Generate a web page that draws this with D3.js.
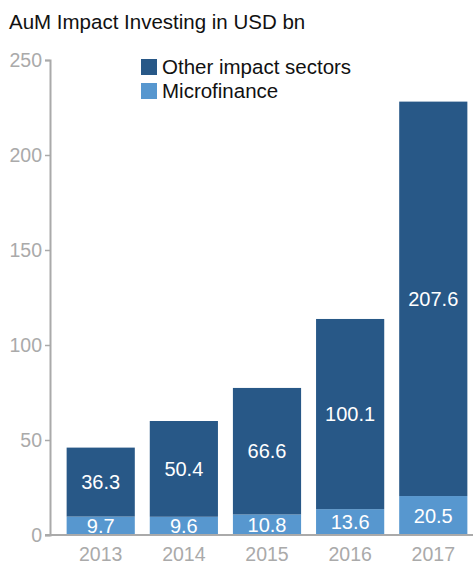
<!DOCTYPE html>
<html>
<head>
<meta charset="utf-8">
<script src="https://cdn.jsdelivr.net/npm/d3@7"></script>
<style>
  body { margin: 0; background: #fff; }
  text { font-family: "Liberation Sans", Arial, Helvetica, sans-serif; }
</style>
</head>
<body>
<div class="chart"></div>
<script>
const years = ["2013", "2014", "2015", "2016", "2017"];
const microfinance = [9.7, 9.6, 10.8, 13.6, 20.5];
const otherSectors = [36.3, 50.4, 66.6, 100.1, 207.6];
const yTicks = [0, 50, 100, 150, 200, 250];
const seriesNames = ["Other impact sectors", "Microfinance"];
const colors = {"Other impact sectors": "#285887", "Microfinance": "#5797cf"};

const data = years.map((y, i) => ({year: y, micro: microfinance[i], other: otherSectors[i]}));

const W = 473, H = 562;
const svg = d3.select(".chart").append("svg")
    .attr("width", W)
    .attr("height", H);

const xScale = d3.scaleBand()
    .domain(years)
    .range([50, 484])
    .paddingInner(0.18)
    .paddingOuter(0.2);

const yScale = d3.scaleLinear()
    .domain([0, 250])
    .range([535, 60]);

// title
svg.append("text")
    .attr("x", 9)
    .attr("y", 29)
    .attr("font-size", 20.5)
    .attr("fill", "#111")
    .text("AuM Impact Investing in USD bn");

// bars
const bars = svg.append("g").selectAll("g")
    .data(data)
    .enter().append("g");

bars.append("rect")
    .attr("x", d => xScale(d.year))
    .attr("width", xScale.bandwidth())
    .attr("y", d => yScale(d.micro))
    .attr("height", d => yScale(0) - yScale(d.micro))
    .attr("fill", colors["Microfinance"]);

bars.append("rect")
    .attr("x", d => xScale(d.year))
    .attr("width", xScale.bandwidth())
    .attr("y", d => yScale(d.micro + d.other))
    .attr("height", d => yScale(d.micro) - yScale(d.micro + d.other))
    .attr("fill", colors["Other impact sectors"]);

bars.append("text")
    .attr("x", d => xScale(d.year) + xScale.bandwidth() / 2)
    .attr("y", d => yScale(d.micro / 2))
    .attr("dy", "0.36em")
    .attr("text-anchor", "middle")
    .attr("font-size", 20)
    .attr("fill", "#fff")
    .text(d => d.micro.toFixed(1));

bars.append("text")
    .attr("x", d => xScale(d.year) + xScale.bandwidth() / 2)
    .attr("y", d => yScale(d.micro + d.other / 2))
    .attr("dy", "0.36em")
    .attr("text-anchor", "middle")
    .attr("font-size", 20)
    .attr("fill", "#fff")
    .text(d => d.other.toFixed(1));

// y axis
const yAxis = d3.axisLeft(yScale)
    .tickValues(yTicks)
    .tickSize(5)
    .tickPadding(3)
    .tickSizeOuter(5);

svg.append("g")
    .attr("class", "axis y-axis")
    .attr("transform", "translate(50,0)")
    .call(yAxis)
    .call(g => g.select(".domain").attr("stroke", "#aaa").attr("stroke-width", 2))
    .call(g => g.selectAll(".tick line").attr("stroke", "#aaa").attr("stroke-width", 1.5))
    .call(g => g.selectAll(".tick text")
        .attr("font-size", 19.5)
        .attr("fill", "#aaa")
        .attr("font-family", "Liberation Sans, Arial, sans-serif"));

// x axis
const xAxis = d3.axisBottom(xScale)
    .tickSize(0)
    .tickPadding(12);

svg.append("g")
    .attr("class", "axis x-axis")
    .attr("transform", "translate(0,535)")
    .call(xAxis)
    .call(g => g.select(".domain").remove())
    .call(g => g.selectAll(".tick text")
        .attr("font-size", 19.5)
        .attr("fill", "#aaa")
        .attr("dy", "0.71em")
        .attr("font-family", "Liberation Sans, Arial, sans-serif"));

svg.append("line")
    .attr("x1", 45)
    .attr("x2", W)
    .attr("y1", yScale(0))
    .attr("y2", yScale(0))
    .attr("stroke", "#aaa")
    .attr("stroke-width", 2);

// legend
const legend = svg.append("g").selectAll("g")
    .data(seriesNames)
    .enter().append("g")
    .attr("transform", (d, i) => `translate(141,${59 + i * 24})`);

legend.append("rect")
    .attr("width", 16)
    .attr("height", 16)
    .attr("fill", d => colors[d]);

legend.append("text")
    .attr("x", 21)
    .attr("y", 15)
    .attr("font-size", 20.5)
    .attr("fill", "#111")
    .text(d => d);
</script>
</body>
</html>
